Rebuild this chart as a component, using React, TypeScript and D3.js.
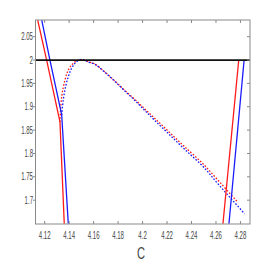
import React from "react";
import * as d3 from "d3";

// axis ticks
const xTicks = [4.12, 4.14, 4.16, 4.18, 4.2, 4.22, 4.24, 4.26, 4.28];
const yTicks = [1.7, 1.75, 1.8, 1.85, 1.9, 1.95, 2, 2.05];
const xTickLabels = ["4.12", "4.14", "4.16", "4.18", "4.2", "4.22", "4.24", "4.26", "4.28"];
const yTickLabels = ["1.7", "1.75", "1.8", "1.85", "1.9", "1.95", "2", "2.05"];

// left solid branches
const redLeftC = [4.1143, 4.1216, 4.1325, 4.136];
const redLeftY = [2.0855, 2.0, 1.8675, 1.6495];
const blueLeftC = [4.1176, 4.1243, 4.1339, 4.1393];
const blueLeftY = [2.0855, 2.0, 1.8825, 1.6495];

// dotted branches
const redDotC = [4.1325, 4.1339, 4.1366, 4.1393, 4.1433, 4.1474, 4.1502, 4.1556, 4.161, 4.1692, 4.1774, 4.1855, 4.1937, 4.2018, 4.21, 4.2182, 4.2263, 4.2345, 4.2494, 4.2637, 4.278];
const redDotY = [1.8675, 1.9216, 1.9573, 1.9786, 1.9929, 2.0, 2.001, 1.9964, 1.9915, 1.9744, 1.9551, 1.9348, 1.9156, 1.8953, 1.875, 1.8547, 1.8344, 1.8141, 1.7778, 1.7367, 1.6951];
const blueDotC = [4.1339, 4.1352, 4.1371, 4.1393, 4.142, 4.1447, 4.1474, 4.1515, 4.1556, 4.161, 4.1692, 4.1774, 4.1855, 4.1937, 4.2018, 4.21, 4.2222, 4.2345, 4.2494, 4.263, 4.2834];
const blueDotY = [1.8825, 1.9145, 1.943, 1.9643, 1.9823, 1.9929, 1.9985, 2.001, 1.9959, 1.9908, 1.9737, 1.9541, 1.9338, 1.9135, 1.8921, 1.8707, 1.8397, 1.8087, 1.772, 1.7307, 1.6709];

// right solid branches
const redRightC = [4.2657, 4.2786];
const redRightY = [1.6495, 2.0];
const blueRightC = [4.2706, 4.283];
const blueRightY = [1.6495, 2.0];

const W = 277;
const H = 277;
const margin = { top: 20, right: 27, bottom: 53, left: 35.5 };

const RED = "#ff1a1a";
const BLUE = "#1a1aff";
const AXIS = "#8a8a8a";
const TEXT = "#444";
const FONT = "'Liberation Sans Narrow', 'Liberation Sans', Arial, sans-serif";

const zip = (cs: number[], ys: number[]) => cs.map((c, i) => [c, ys[i]] as [number, number]);
// condensed label width
const labelWidth = (s: string) => s.split("").reduce((w, ch) => w + (ch === "." ? 1.6 : 3.4), 0);

export default function App() {
  const x = d3.scaleLinear().domain([4.1125, 4.2878]).range([margin.left, W - margin.right]);
  const y = d3.scaleLinear().domain([1.649, 2.0857]).range([H - margin.bottom, margin.top]);

  const straight = d3.line<[number, number]>().x((d) => x(d[0])).y((d) => y(d[1]));
  const smooth = d3
    .line<[number, number]>()
    .x((d) => x(d[0]))
    .y((d) => y(d[1]))
    .curve(d3.curveCatmullRom.alpha(0.5));

  const x0 = margin.left;
  const x1 = W - margin.right;
  const y0 = H - margin.bottom;
  const y1 = margin.top;

  return (
    <svg width={W} height={H} style={{ position: "absolute", left: 0, top: 0 }}>
      <rect width={W} height={H} fill="#fff" />
      <defs>
        <clipPath id="plot">
          <rect x={x0} y={y1} width={x1 - x0} height={y0 - y1} />
        </clipPath>
      </defs>

      <g clipPath="url(#plot)" fill="none">
        <path d={smooth(zip(redDotC, redDotY)) || ""} stroke={RED} strokeWidth={1.3} strokeDasharray="1.6,1.7" />
        <path d={smooth(zip(blueDotC, blueDotY)) || ""} stroke={BLUE} strokeWidth={1.3} strokeDasharray="1.6,1.7" />
        <path d={straight(zip(redLeftC, redLeftY)) || ""} stroke={RED} strokeWidth={1.3} />
        <path d={straight(zip(blueLeftC, blueLeftY)) || ""} stroke={BLUE} strokeWidth={1.3} />
        <path d={straight(zip(redRightC, redRightY)) || ""} stroke={RED} strokeWidth={1.3} />
        <path d={straight(zip(blueRightC, blueRightY)) || ""} stroke={BLUE} strokeWidth={1.3} />
        <line x1={x0} x2={x1} y1={y(2)} y2={y(2)} stroke="#111" strokeWidth={1.8} />
      </g>

      {/* box */}
      <rect x={x0} y={y1} width={x1 - x0} height={y0 - y1} fill="none" stroke={AXIS} strokeWidth={1} />

      {xTicks.map((t, i) => (
        <g key={"x" + i}>
          <line x1={x(t)} x2={x(t)} y1={y0} y2={y0 - 3} stroke={AXIS} />
          <line x1={x(t)} x2={x(t)} y1={y1} y2={y1 + 3} stroke={AXIS} />
          <text
            x={x(t)}
            y={239}
            textAnchor="middle"
            fontFamily={FONT}
            fontSize={10.5}
            fill={TEXT}
            textLength={labelWidth(xTickLabels[i])}
            lengthAdjust="spacingAndGlyphs"
          >
            {xTickLabels[i]}
          </text>
        </g>
      ))}
      {yTicks.map((t, i) => (
        <g key={"y" + i}>
          <line x1={x0} x2={x0 - 2.5} y1={y(t)} y2={y(t)} stroke={AXIS} />
          <line x1={x1} x2={x1 - 3} y1={y(t)} y2={y(t)} stroke={AXIS} />
          <text
            x={x0 - 2.5 - labelWidth(yTickLabels[i])}
            y={y(t)}
            dy="0.35em"
            fontFamily={FONT}
            fontSize={10.5}
            fill={TEXT}
            textLength={labelWidth(yTickLabels[i])}
            lengthAdjust="spacingAndGlyphs"
          >
            {yTickLabels[i]}
          </text>
        </g>
      ))}

      <text
        x={137}
        y={258.5}
        fontFamily={FONT}
        fontSize={16}
        fill={TEXT}
        textLength={8}
        lengthAdjust="spacingAndGlyphs"
      >
        C
      </text>
    </svg>
  );
}
